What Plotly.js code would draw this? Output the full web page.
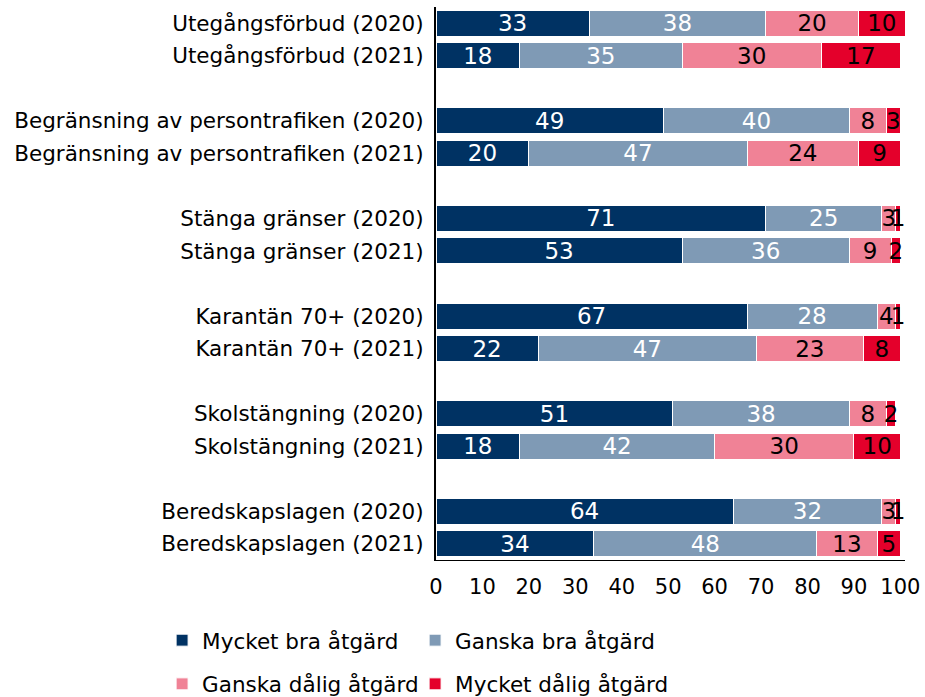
<!DOCTYPE html>
<html>
<head>
<meta charset="utf-8">
<script src="https://cdn.plot.ly/plotly-3.0.1.min.js"></script>
<style>html,body{margin:0;padding:0;background:#fff;}#chart{width:925px;height:697px;}</style>
</head>
<body>
<div id="chart"></div>
<script>
const categories = [
  "Utegångsförbud (2020)", "Utegångsförbud (2021)",
  "Begränsning av persontrafiken (2020)", "Begränsning av persontrafiken (2021)",
  "Stänga gränser (2020)", "Stänga gränser (2021)",
  "Karantän 70+ (2020)", "Karantän 70+ (2021)",
  "Skolstängning (2020)", "Skolstängning (2021)",
  "Beredskapslagen (2020)", "Beredskapslagen (2021)"
];
const seriesNames = ["Mycket bra åtgärd", "Ganska bra åtgärd", "Ganska dålig åtgärd", "Mycket dålig åtgärd"];
const mycketBra   = [33, 18, 49, 20, 71, 53, 67, 22, 51, 18, 64, 34];
const ganskaBra   = [38, 35, 40, 47, 25, 36, 28, 47, 38, 42, 32, 48];
const ganskaDalig = [20, 30,  8, 24,  3,  9,  4, 23,  8, 30,  3, 13];
const mycketDalig = [10, 17,  3,  9,  1,  2,  1,  8,  2, 10,  1,  5];
const xTicks = [0, 10, 20, 30, 40, 50, 60, 70, 80, 90, 100];

const colors = ["#003263", "#7f9ab5", "#f08296", "#e4002b"];
const textColors = ["#ffffff", "#ffffff", "#000000", "#000000"];
const FONT = "DejaVu Sans, sans-serif";

// pairs of bars separated by an empty slot
const ypos = categories.map((c, i) => i + Math.floor(i / 2));

const allValues = [mycketBra, ganskaBra, ganskaDalig, mycketDalig];
const traces = allValues.map((vals, k) => ({
  type: "bar",
  orientation: "h",
  name: seriesNames[k],
  x: vals,
  y: ypos,
  width: 0.8,
  marker: {color: colors[k], line: {color: "#ffffff", width: 1}},
  text: vals.map(String),
  textposition: "inside",
  insidetextanchor: "middle",
  textangle: 0,
  constraintext: "none",
  cliponaxis: false,
  textfont: {family: FONT, size: 23, color: textColors[k]},
  hoverinfo: "x+y",
  legend: k < 2 ? "legend" : "legend2"
}));

const legendCommon = {
  orientation: "h",
  xanchor: "left",
  yanchor: "middle",
  font: {family: FONT, size: 21.5, color: "#000"},
  entrywidth: 208,
  entrywidthmode: "pixels",
  itemwidth: 30,
  bgcolor: "rgba(0,0,0,0)",
  traceorder: "normal"
};

const layout = {
  width: 925,
  height: 697,
  margin: {l: 436, r: 20, t: 7, b: 137, autoexpand: false},
  paper_bgcolor: "#ffffff",
  plot_bgcolor: "#ffffff",
  barmode: "stack",
  showlegend: true,
  font: {family: FONT, color: "#000"},
  xaxis: {
    range: [0, 101],
    tickvals: xTicks,
    ticktext: xTicks.map(String),
    showgrid: false,
    zeroline: false,
    showline: true,
    linecolor: "#000",
    linewidth: 1,
    ticks: "",
    ticklen: 0,
    ticklabelstandoff: 8,
    tickfont: {family: FONT, size: 21, color: "#000"},
    fixedrange: true
  },
  yaxis: {
    range: [16.5, -0.5],
    tickvals: ypos,
    ticktext: categories,
    showgrid: false,
    zeroline: false,
    showline: true,
    linecolor: "#000",
    linewidth: 2,
    ticks: "",
    ticklabelstandoff: 6,
    tickfont: {family: FONT, size: 21.5, color: "#000"},
    fixedrange: true
  },
  legend: Object.assign({}, legendCommon, {x: -0.584, y: -0.145}),
  legend2: Object.assign({}, legendCommon, {x: -0.584, y: -0.224})
};

Plotly.newPlot("chart", traces, layout, {displayModeBar: false, staticPlot: true});
</script>
</body>
</html>
